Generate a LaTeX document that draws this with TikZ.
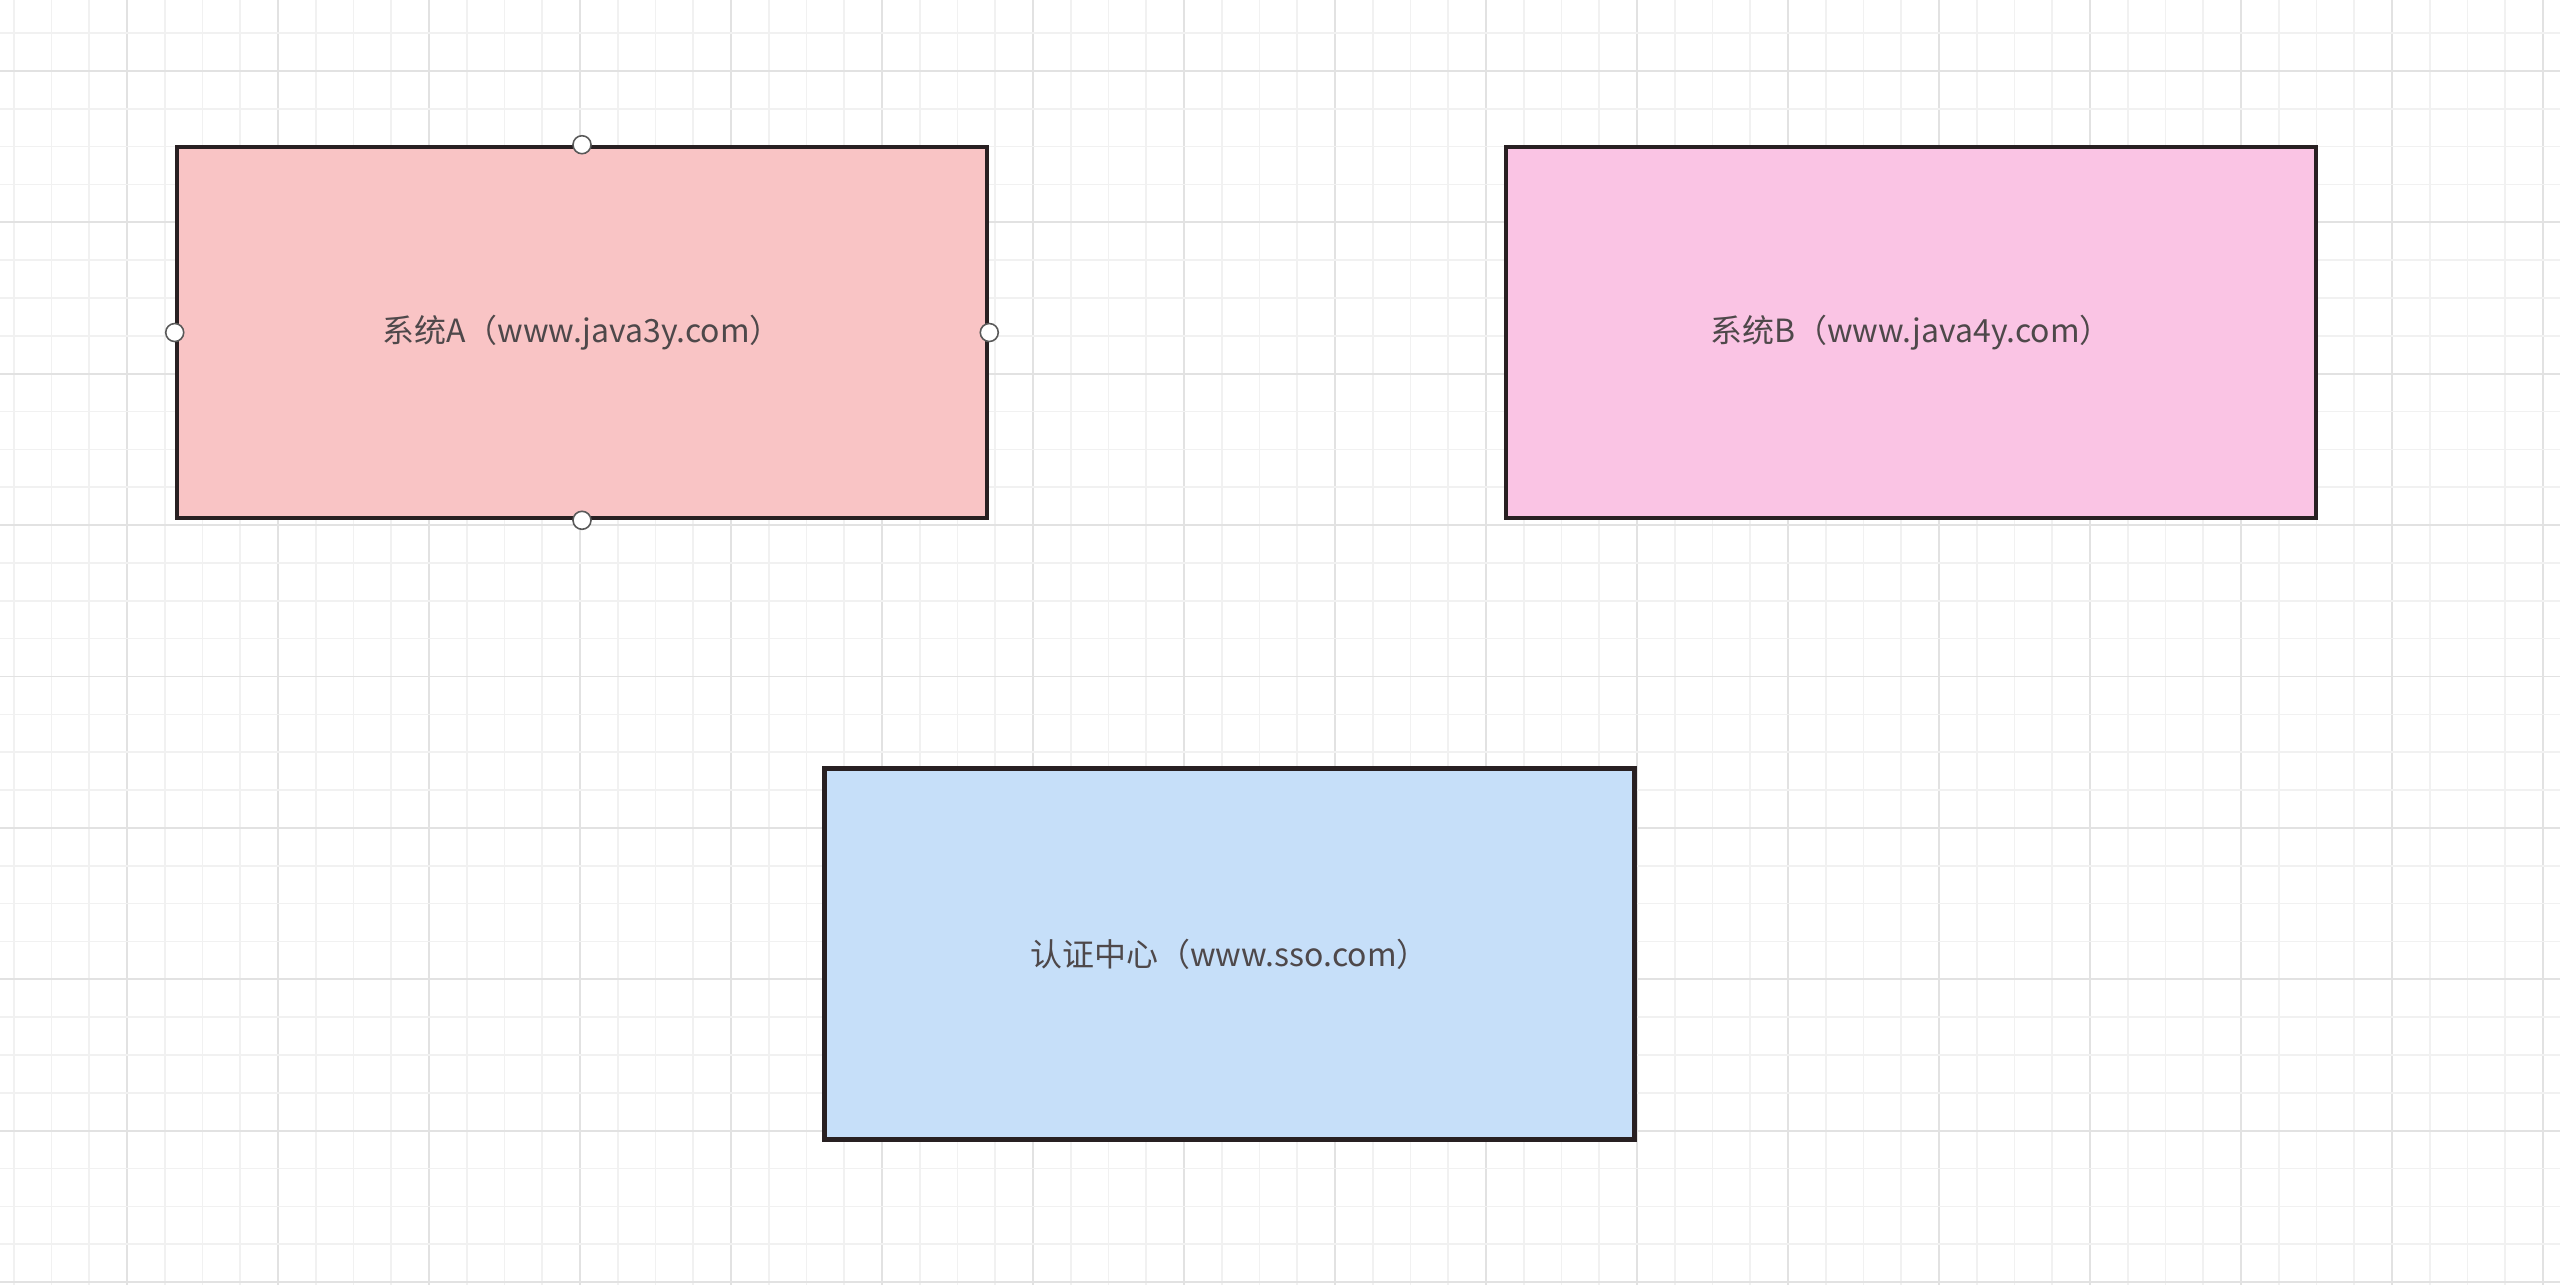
\documentclass[tikz,border=0pt]{standalone}
\usepackage{fontspec}
\setmainfont{Noto Sans CJK SC}
\definecolor{gridminor}{RGB}{241,241,241}
\definecolor{gridmajor}{RGB}{226,226,226}
\definecolor{fillA}{RGB}{249,196,197}
\definecolor{fillB}{RGB}{250,196,228}
\definecolor{fillC}{RGB}{198,223,249}
\definecolor{boxline}{RGB}{40,32,34}
\definecolor{txt}{RGB}{78,72,74}
\tikzset{
  sysbox/.style={draw=boxline, line width=1.3pt, rectangle, minimum width=81mm, minimum height=37.1mm, inner sep=0pt, text=txt, font=\fontsize{9.1pt}{11pt}\selectfont},
  handle/.style={circle, draw=black!65, fill=white, line width=0.45pt, minimum size=1.8mm, inner sep=0pt},
  gminor/.style={draw=gridminor, line width=0.45pt},
  gmajor/.style={draw=gridmajor, line width=0.5pt}
}
\begin{document}
\begin{tikzpicture}[x=0.1mm, y=-0.1mm]
\useasboundingbox (0,0) rectangle (2560,1285);
\fill[white] (0,0) rectangle (2560,1285);
% grid
\foreach \i in {0,...,67} {
  \pgfmathsetmacro{\xx}{13.75+37.75*\i}
  \pgfmathtruncatemacro{\m}{mod(\i,4)}
  \ifnum\m=3
    \draw[gmajor] (\xx,0) -- (\xx,1285);
  \else
    \draw[gminor] (\xx,0) -- (\xx,1285);
  \fi
}
\foreach \j in {0,...,33} {
  \pgfmathsetmacro{\yy}{33+37.85*\j}
  \pgfmathtruncatemacro{\m}{mod(\j,4)}
  \ifnum\m=1
    \draw[gmajor] (0,\yy) -- (2560,\yy);
  \else
    \draw[gminor] (0,\yy) -- (2560,\yy);
  \fi
}
% boxes
\node[sysbox, fill=fillA] (A) at (582,332.5) {系统A（www.java3y.com）};
\node[sysbox, fill=fillB] (B) at (1911,332.5) {系统B（www.java4y.com）};
\node[sysbox, fill=fillC] (C) at (1229.5,954) {认证中心（www.sso.com）};
% selection handles on A
\node[handle] (hAn) at (A.north) {};
\node[handle] (hAs) at (A.south) {};
\node[handle] (hAw) at (A.west) {};
\node[handle] (hAe) at (A.east) {};
\end{tikzpicture}
\end{document}
